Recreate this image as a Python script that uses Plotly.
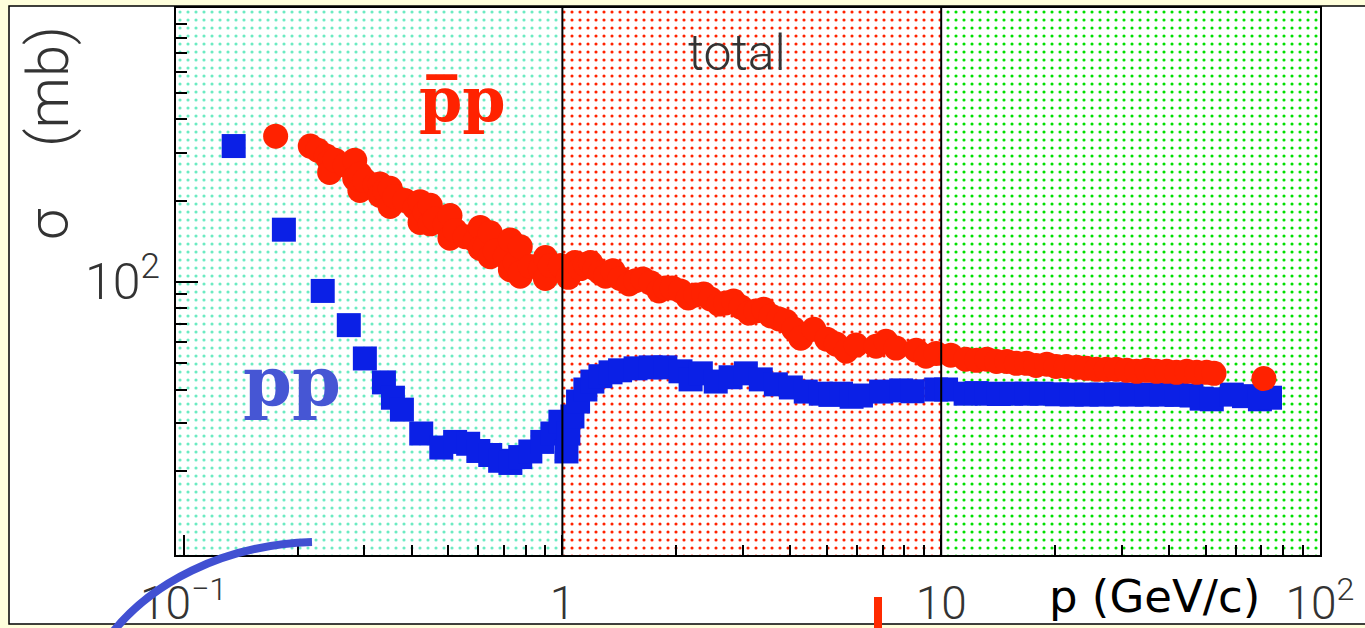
import plotly.graph_objects as go

# ---------------- data ----------------
pp_p = [0.1356, 0.184, 0.233, 0.273, 0.301, 0.338, 0.357, 0.377, 0.424, 0.479,
        0.521, 0.564, 0.600, 0.645, 0.685, 0.729, 0.774, 0.823, 0.885, 0.941,
        0.988, 1.025, 1.037, 1.063, 1.10, 1.15, 1.20, 1.26, 1.34, 1.42,
        1.56, 1.71, 1.87, 2.05, 2.18, 2.32, 2.54, 2.78, 3.05, 3.34,
        3.66, 4.01, 4.39, 4.81, 5.10, 5.44, 5.80, 6.14, 6.94, 7.84, 8.40, 9.70,
        10.3, 11.6, 12.4, 13.2, 14.2, 15.3, 16.8, 18.4, 20.2, 22.1, 24.2, 26.5,
        29.0, 31.8, 34.9, 38.2, 41.8, 45.8, 48.7, 51.8, 58.5, 63.0, 69.4, 73.8]
pp_sigma = [318, 156, 92.6, 69.2, 52.1, 42.5, 37.3, 33.7, 27.5, 24.4,
            25.6, 25.2, 23.7, 22.9, 21.8, 21.4, 22.5, 23.6, 25.6, 27.5,
            30.4, 23.6, 27.5, 31.8, 36.1, 40.0, 42.8, 44.8, 46.3, 47.1,
            47.9, 48.3, 48.3, 46.7, 43.6, 45.9, 42.8, 44.4, 45.9, 43.6,
            41.8, 40.7, 39.3, 38.6, 38.2, 38.6, 37.6, 38.0, 39.3, 39.7, 39.4, 40.0,
            40.0, 38.6, 38.8, 38.6, 38.5, 38.6, 38.6, 38.6, 38.4, 38.3, 38.3, 38.3,
            38.4, 38.3, 38.3, 38.3, 38.2, 38.0, 37.0, 36.8, 38.3, 37.8, 36.8, 37.3]

pbar_p = [0.175, 0.216, 0.226, 0.238, 0.243, 0.243, 0.251, 0.267, 0.283, 0.283,
          0.292, 0.292, 0.301, 0.320, 0.330, 0.330, 0.340, 0.351, 0.351, 0.361,
          0.384, 0.408, 0.421, 0.421, 0.434, 0.448, 0.448, 0.461, 0.490, 0.505,
          0.505, 0.521, 0.554, 0.589, 0.607, 0.607, 0.626, 0.645, 0.645, 0.665,
          0.707, 0.729, 0.729, 0.751, 0.774, 0.774, 0.774, 0.823, 0.875, 0.902,
          0.902, 0.929, 0.988,
          1.037, 1.08, 1.116, 1.15, 1.186, 1.22, 1.26, 1.30, 1.36, 1.42,
          1.50, 1.56, 1.63, 1.71, 1.80, 1.87, 1.95, 2.05, 2.15, 2.25,
          2.36, 2.46, 2.59, 2.70, 2.83, 2.96, 3.11, 3.24, 3.40, 3.55,
          3.73, 3.89, 4.08, 4.26, 4.61, 4.99, 5.28, 5.61, 5.96, 6.73,
          7.15, 7.60, 8.59, 9.12, 9.70,
          10.6, 11.6, 12.4, 13.2, 14.0, 14.9, 15.8, 16.8, 17.8, 19.0,
          20.1, 21.4, 22.8, 24.2, 25.7, 27.3, 29.0, 30.9, 32.8, 34.9,
          37.0, 39.4, 41.8, 44.5, 47.3, 50.2, 52.5, 71.1]
pbar_sigma = [346, 318, 307, 292, 279, 254, 282, 270, 282, 241,
              250, 218, 237, 228, 230, 209, 218, 222, 190, 207,
              200, 188, 198, 166, 181, 192, 164, 171, 163, 176,
              145, 155, 147, 142, 159, 133, 135, 152, 124, 130,
              124, 143, 111, 118, 135, 105, 108, 114, 112, 123,
              103, 115, 115,
              104, 118, 112, 116, 118, 112, 108, 105, 110, 103,
              98.3, 101, 102.6, 99.2, 92.6, 95.0, 95.0, 92.6, 87.2, 89.5,
              90.2, 86.5, 82.8, 83.6, 85.0, 80.7, 76.7, 78.0, 79.3, 74.8,
              72.9, 71.6, 66.9, 61.9, 66.8, 61.4, 58.9, 55.4, 58.4, 57.8,
              60.3, 56.9, 55.9, 53.1, 54.4,
              53.6, 51.8, 51.3, 51.8, 50.8, 50.8, 50.0, 50.0, 49.1, 49.6,
              48.7, 48.7, 48.3, 47.9, 47.5, 47.5, 47.5, 47.1, 46.7, 47.1,
              46.7, 46.7, 46.3, 46.7, 46.3, 46.3, 45.9, 43.9]

# momentum ranges of the three shaded bands
band_lo = [0.05, 1.0, 10.0]
band_hi = [1.0, 10.0, 1000.0]
band_colors = ["#6CEBC2", "#FF2200", "#00E000"]

x_tickvals = [0.1, 1, 10, 100]
x_ticktext = ["10<sup>\u22121</sup>", "1", "10", "10<sup>2</sup>"]
x_minor = [0.2, 0.3, 0.4, 0.5, 0.6, 0.7, 0.8, 0.9,
           2, 3, 4, 5, 6, 7, 8, 9, 20, 30, 40, 50, 60, 70, 80, 90]
y_tickvals = [100]
y_ticktext = ["10<sup>2</sup>"]
y_minor = [20, 30, 40, 50, 60, 70, 80, 90, 200, 300, 400, 500, 600, 700, 800, 900]

# ---------------- layout geometry ----------------
W, H = 1365, 628
L, R, T, B = 176, 1320, 8, 555


def pxx(x):
    return (x - L) / (R - L)


def pxy(y):
    return (B - y) / (B - T)


fig = go.Figure()

# shaded bands (dotted pattern)
for lo, hi, col in zip(band_lo, band_hi, band_colors):
    fig.add_trace(go.Scatter(
        x=[lo, hi, hi, lo, lo], y=[1, 1, 1e4, 1e4, 1],
        mode="none", fill="toself",
        fillcolor="white",
        fillpattern=dict(shape=".", fgcolor=col, bgcolor="white",
                         size=8, solidity=0.12, fillmode="replace"),
        hoverinfo="skip", showlegend=False))

# pp (blue squares)
fig.add_trace(go.Scatter(
    x=pp_p, y=pp_sigma, mode="markers",
    marker=dict(symbol="square", size=24, color="#0B20E6", line=dict(width=0)),
    showlegend=False, cliponaxis=True))

# pbar p (red circles)
fig.add_trace(go.Scatter(
    x=pbar_p, y=pbar_sigma, mode="markers",
    marker=dict(symbol="circle", size=25, color="#FF2200", line=dict(width=0)),
    showlegend=False, cliponaxis=True))

# band boundaries
for edge in band_hi[:2]:
    fig.add_trace(go.Scatter(
        x=[edge, edge], y=[1, 1e4], mode="lines",
        line=dict(color="black", width=2), hoverinfo="skip", showlegend=False))

tick_font = dict(family="Roboto, Liberation Sans, sans-serif", color="#333333", weight=300)

fig.update_xaxes(
    type="log", range=[-1.02, 2.0], automargin=False,
    tickmode="array", tickvals=x_tickvals, ticktext=x_ticktext,
    ticks="inside", ticklen=20, tickwidth=1.5, tickcolor="black",
    minor=dict(tickmode="array", tickvals=x_minor, ticks="inside",
               ticklen=10, tickwidth=1.5, tickcolor="black", showgrid=False),
    showline=True, linecolor="black", linewidth=2, mirror=True,
    showgrid=False, zeroline=False,
    tickfont=dict(size=46, **tick_font), ticklabelstandoff=7)

fig.update_yaxes(
    type="log", range=[0.99, 3.013], automargin=False,
    tickmode="array", tickvals=y_tickvals, ticktext=y_ticktext,
    ticks="inside", ticklen=22, tickwidth=1.5, tickcolor="black",
    minor=dict(tickmode="array", tickvals=y_minor, ticks="inside",
               ticklen=11, tickwidth=1.5, tickcolor="black", showgrid=False),
    showline=True, linecolor="black", linewidth=2, mirror=True,
    showgrid=False, zeroline=False,
    tickfont=dict(size=50, **tick_font), ticklabelstandoff=4)

shapes = [
    # white panel
    dict(type="rect", xref="paper", yref="paper",
         x0=pxx(9), x1=pxx(1380), y0=pxy(624), y1=pxy(6),
         fillcolor="white", line=dict(color="black", width=1.5), layer="below"),
    # blue decorative arc
    dict(type="path", xref="paper", yref="paper",
         path=f"M {pxx(112)},{pxy(633)} C {pxx(150)},{pxy(585)} {pxx(220)},{pxy(545)} {pxx(312)},{pxy(542)}",
         line=dict(color="#4150D2", width=8), layer="above"),
    # red decorative bar
    dict(type="rect", xref="paper", yref="paper",
         x0=pxx(874), x1=pxx(882), y0=pxy(635), y1=pxy(597),
         fillcolor="#FF2A00", line=dict(width=0), layer="above"),
]


def ann(text, x, y, font, angle=0):
    return dict(text=text, x=pxx(x), y=pxy(y), xref="paper", yref="paper",
                xanchor="center", yanchor="middle", showarrow=False,
                textangle=angle, font=font)


annotations = [
    ann("total", 737, 53, dict(size=50, **tick_font)),
    ann("p\u0305p", 462, 99,
        dict(family="DejaVu Serif, serif", size=62, color="#FF2200", weight="bold")),
    ann("pp", 292, 381,
        dict(family="DejaVu Serif, serif", size=70, color="#4656D4", weight="bold")),
    ann("\u03c3", 48, 225, dict(size=56, **tick_font), -90),
    ann("(mb)", 48, 87, dict(size=58, **tick_font), -90),
    ann("p (GeV/c)", 1154, 596,
        dict(family="DejaVu Sans, sans-serif", size=45, color="black")),
]

fig.update_layout(
    width=W, height=H, autosize=False,
    margin=dict(l=L, r=W - R, t=T, b=H - B, pad=0, autoexpand=False),
    paper_bgcolor="#FFFFDC", plot_bgcolor="white",
    shapes=shapes, annotations=annotations,
    showlegend=False,
)

fig.write_html("out.html", config={"displayModeBar": False},
               post_script="document.body.style.margin='0';document.body.style.overflow='hidden';")
